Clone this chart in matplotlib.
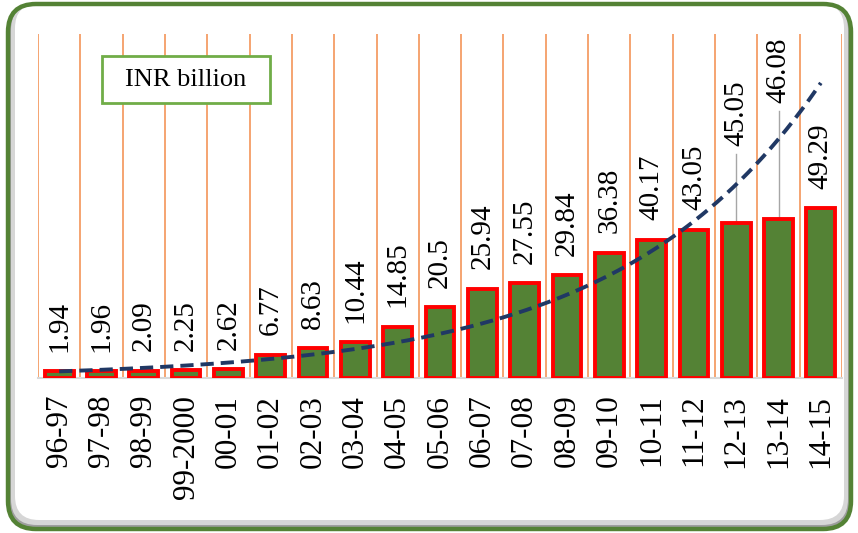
import numpy as np
import matplotlib.pyplot as plt
from matplotlib.patches import FancyBboxPatch, Rectangle

years = ['96-97', '97-98', '98-99', '99-2000', '00-01', '01-02', '02-03', '03-04',
         '04-05', '05-06', '06-07', '07-08', '08-09', '09-10', '10-11', '11-12',
         '12-13', '13-14', '14-15']
values = [1.94, 1.96, 2.09, 2.25, 2.62, 6.77, 8.63, 10.44, 14.85, 20.5, 25.94,
          27.55, 29.84, 36.38, 40.17, 43.05, 45.05, 46.08, 49.29]
value_text = ['1.94', '1.96', '2.09', '2.25', '2.62', '6.77', '8.63', '10.44',
              '14.85', '20.5', '25.94', '27.55', '29.84', '36.38', '40.17',
              '43.05', '45.05', '46.08', '49.29']

# labels that were dragged up and hang on a leader line
moved_labels = {16: 67.5, 17: 80.0}

W, H = 858, 533
fig = plt.figure(figsize=(W / 100, H / 100), dpi=100)
plt.rcParams['font.family'] = 'Liberation Serif'

# background frame in pixel coordinates
bg = fig.add_axes([0, 0, 1, 1])
bg.set_xlim(0, W)
bg.set_ylim(0, H)
bg.axis('off')
bg.add_patch(FancyBboxPatch((8, 4), W - 15, H - 8, boxstyle='round,pad=0,rounding_size=28',
                            fc='#9E9E9E', ec='none'))
bg.add_patch(FancyBboxPatch((11, 8), W - 21, H - 12, boxstyle='round,pad=0,rounding_size=26',
                            fc='#D6D6D6', ec='none'))
bg.add_patch(FancyBboxPatch((15, 13), W - 29, H - 17, boxstyle='round,pad=0,rounding_size=24',
                            fc='white', ec='none'))
bg.add_patch(FancyBboxPatch((8, 4), W - 15, H - 8, boxstyle='round,pad=0,rounding_size=28',
                            fc='none', ec='#548235', lw=3.2))

ax = fig.add_axes([38 / W, 1 - 378 / H, (842 - 38) / W, (378 - 34) / H])
ax.patch.set_alpha(0)
x = np.arange(len(values))

for b in np.arange(len(values) + 1) - 0.5:
    ax.axvline(b, color='#F28C4A', lw=1.1, zorder=1)

ax.bar(x, values, width=0.68, color='#548235', edgecolor='#FF0000', linewidth=2.8, zorder=3)

# exponential trend fitted on log values
k, c = np.polyfit(x, np.log(values), 1)
xt = np.linspace(0, len(values) - 1, 200)
ax.plot(xt, np.exp(c + k * xt), color='#203864', lw=2.8, ls=(0, (3.4, 1.8)), zorder=4)

for i, (v, t) in enumerate(zip(values, value_text)):
    if i in moved_labels:
        ly = moved_labels[i]
        ax.plot([i, i], [v, ly - 2.3], color='#A6A6A6', lw=1, zorder=2)
        ax.text(i, ly, t, rotation=90, ha='center', va='bottom', fontsize=21, zorder=5)
    else:
        ax.annotate(t, (i, v), xytext=(0, 14), textcoords='offset points', rotation=90,
                    ha='center', va='bottom', fontsize=21, zorder=5)

ax.set_xlim(-0.5, len(values) - 0.5)
ax.set_ylim(0, 100)
ax.set_xticks(x)
ax.set_xticklabels(years, rotation=90, fontsize=22.5)
ax.tick_params(axis='x', length=0, pad=12)
ax.set_yticks([])
for s in ['top', 'left', 'right']:
    ax.spines[s].set_visible(False)
ax.spines['bottom'].set_color('#D9D9D9')
ax.spines['bottom'].set_linewidth(1.5)

# unit box, drawn over the gridlines
ax.add_patch(Rectangle((102, H - 103), 168, 47, transform=bg.transData, fc='white',
                       ec='#70AD47', lw=2, zorder=6, clip_on=False))
ax.text(186, H - 80, 'INR billion', transform=bg.transData, fontsize=19,
        ha='center', va='center', zorder=7)

fig.savefig('out.png', dpi=100)
